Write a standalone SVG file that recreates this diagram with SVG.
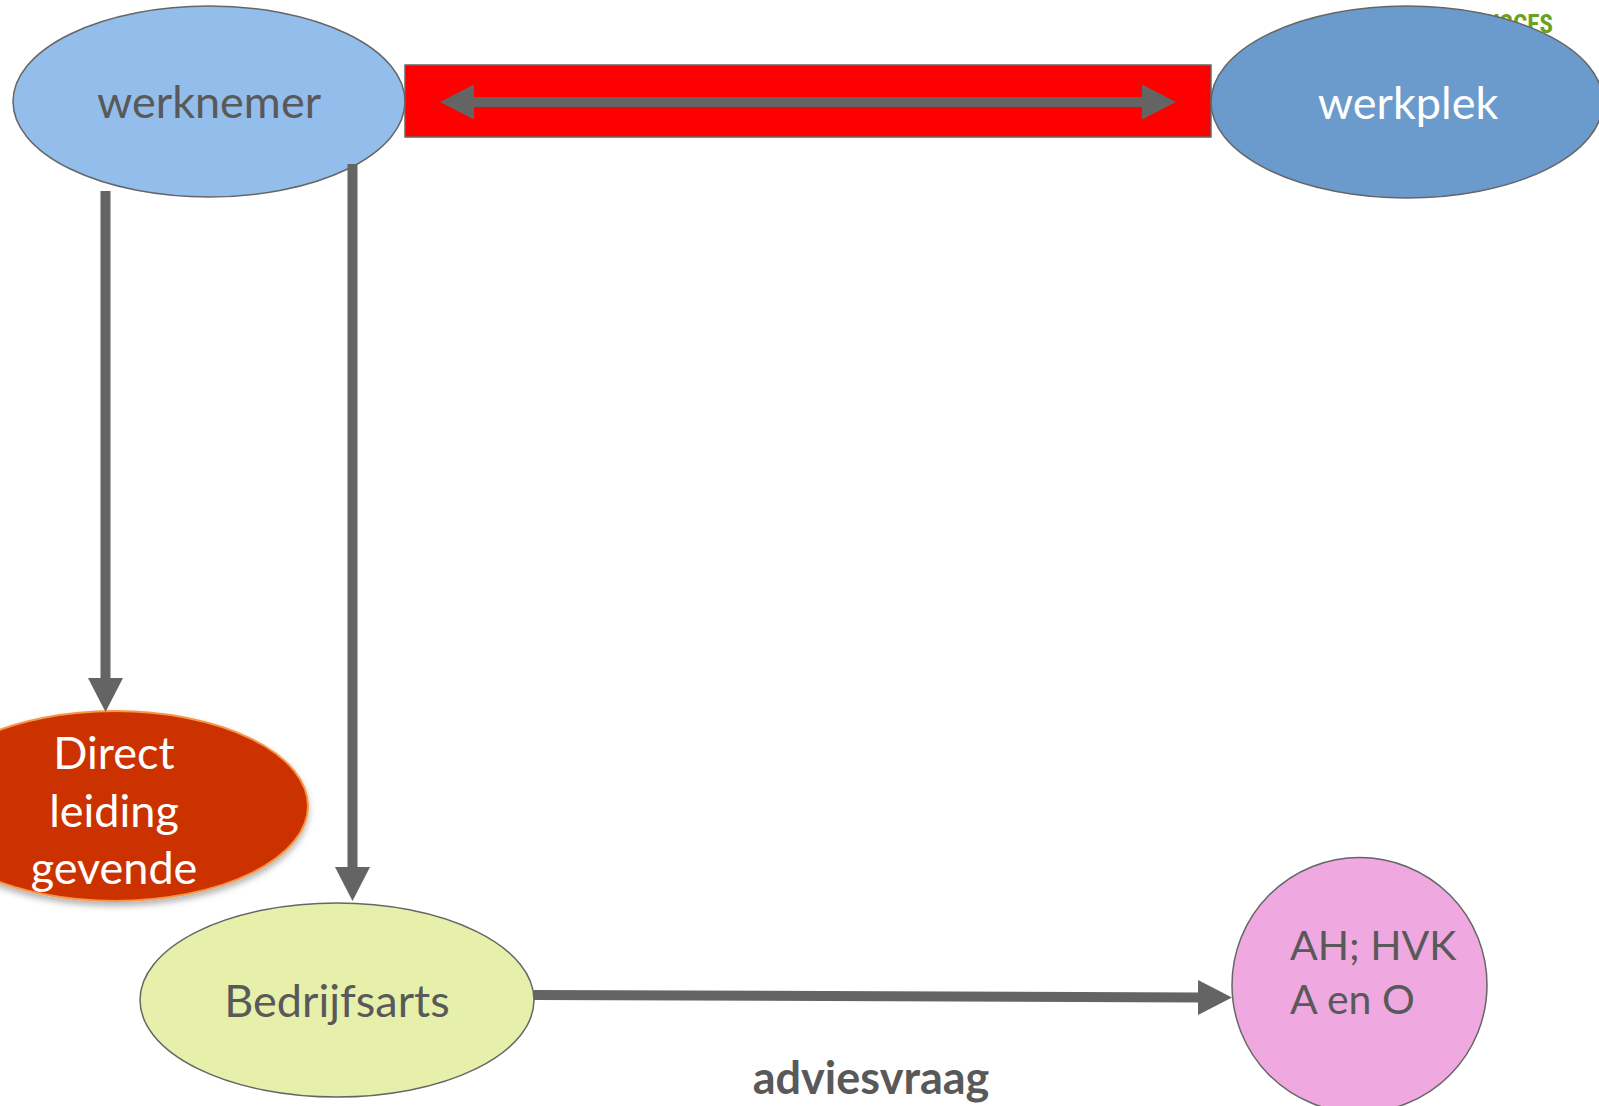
<svg xmlns="http://www.w3.org/2000/svg" width="1599" height="1106" viewBox="0 0 1599 1106">
<style>
.node{stroke:#666666;stroke-width:1.5}
.lbl{font-family:Lato,"Open Sans","Liberation Sans",sans-serif;font-size:45px;fill:#595959;text-anchor:middle;dominant-baseline:central}
.wht{fill:#ffffff}
.lft{font-family:Lato,"Open Sans","Liberation Sans",sans-serif;font-size:41px;fill:#595959;text-anchor:start}
.con{stroke:#646464;stroke-width:10;fill:none}
</style>
<defs>
<marker id="ah" viewBox="0 0 34 35" markerWidth="34" markerHeight="35" refX="2" refY="17.5" orient="auto-start-reverse" markerUnits="userSpaceOnUse">
<path d="M0,0 L34,17.5 L0,35 z" fill="#646464"/>
</marker>
<filter id="sh" x="-20%" y="-20%" width="140%" height="150%">
<feDropShadow dx="0" dy="4" stdDeviation="3" flood-color="#000" flood-opacity="0.3"/>
</filter>
</defs>
<rect width="1599" height="1106" fill="#ffffff"/>
<text x="1553" y="33" font-family="'Liberation Sans Narrow','Roboto Condensed','Liberation Sans',sans-serif" font-weight="bold" font-size="25" fill="#6aa121" text-anchor="end">USCES</text>
<g id="werknemer">
<ellipse class="node" cx="209" cy="101.5" rx="196" ry="95.5" fill="#93bdeb"/>
<text class="lbl" x="209" y="101">werknemer</text>
</g>
<g id="werkplek">
<ellipse class="node" cx="1407" cy="102" rx="196" ry="96" fill="#6b9bcc"/>
<text class="lbl wht" x="1408" y="102">werkplek</text>
</g>
<g id="relatie">
<rect x="405" y="65" width="806" height="72" fill="#ff0000" stroke="#666666" stroke-width="1.5"/>
</g>
<g id="direct">
<ellipse cx="115" cy="806" rx="193" ry="95" fill="#cc3300" stroke="#f79646" stroke-width="2" filter="url(#sh)"/>
<text class="lbl wht" x="114" y="752">Direct</text>
<text class="lbl wht" x="114" y="810">leiding</text>
<text class="lbl wht" x="114" y="867">gevende</text>
</g>
<g id="bedrijfsarts">
<ellipse class="node" cx="337" cy="1000" rx="197" ry="97" fill="#e6f0aa"/>
<text class="lbl" x="337" y="1000">Bedrijfsarts</text>
</g>
<g id="ah">
<circle class="node" cx="1359.5" cy="985" r="127.5" fill="#f0a8e1"/>
<text class="lft" x="1290" y="960">AH; HVK</text>
<text class="lft" x="1290" y="1014">A en O</text>
</g>
<g id="connectors">
<line class="con" x1="472" y1="102" x2="1144" y2="102" marker-start="url(#ah)" marker-end="url(#ah)"/>
<line class="con" x1="105.5" y1="191" x2="105.5" y2="680" marker-end="url(#ah)"/>
<line class="con" x1="352.5" y1="164" x2="352.5" y2="869" marker-end="url(#ah)"/>
<line class="con" x1="534" y1="995" x2="1200" y2="997.5" marker-end="url(#ah)"/>
</g>
<text x="871" y="1094" font-family="Lato,'Open Sans','Liberation Sans',sans-serif" font-weight="bold" font-size="45" fill="#595959" text-anchor="middle">adviesvraag</text>
</svg>
